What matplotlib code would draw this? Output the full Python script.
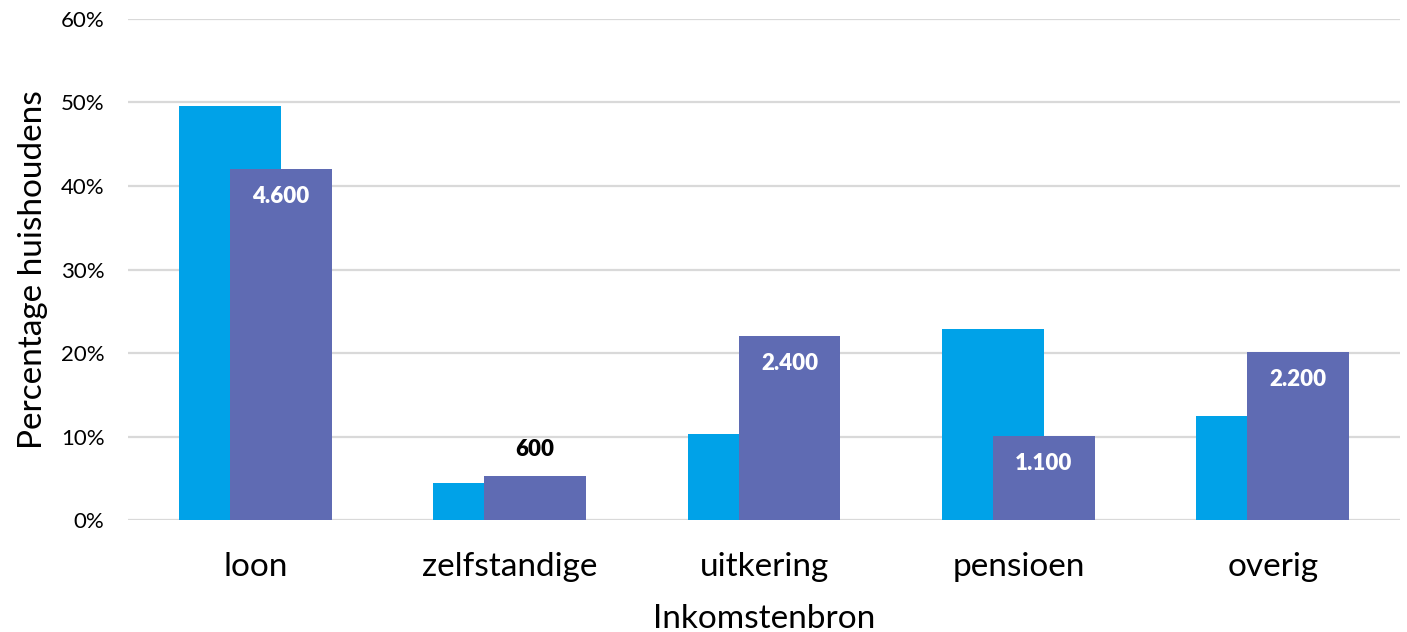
import numpy as np
import matplotlib.pyplot as plt

plt.rcParams['font.family'] = ['Lato', 'DejaVu Sans']

categories = ["loon", "zelfstandige", "uitkering", "pensioen", "overig"]
pct_all = [49.6, 4.4, 10.3, 22.9, 12.5]
pct_group = [42.0, 5.3, 22.0, 10.1, 20.1]
count_labels = ["4.600", "600", "2.400", "1.100", "2.200"]

fig = plt.figure(figsize=(14.07, 6.32), dpi=100)
ax = fig.add_axes([0.091, 0.177, 0.904, 0.793])

x = np.arange(len(categories))
w = 0.4
ax.bar(x - 0.1, pct_all, width=w, color="#00a2e8", zorder=2)
bars = ax.bar(x + 0.1, pct_group, width=w, color="#5f6bb3", zorder=3)

for b, lab in zip(bars, count_labels):
    h = b.get_height()
    cx = b.get_x() + b.get_width() / 2
    if h > 8:
        ax.text(cx, h - 3.3, lab, ha="center", va="center", color="white",
                fontsize=16, fontweight="heavy", zorder=4)
    else:
        ax.text(cx, h + 3.2, lab, ha="center", va="center", color="black",
                fontsize=16, fontweight="heavy", zorder=4)

ax.set_xlim(-0.5, 4.5)
ax.set_ylim(0, 60)
ax.set_yticks(np.arange(0, 61, 10))
ax.set_yticklabels([f"{v}%" for v in range(0, 61, 10)], fontsize=16)
ax.set_xticks(x)
ax.set_xticklabels(categories, fontsize=24)
ax.grid(axis="y", color="#d9d9d9", linewidth=1.6, zorder=0)
for s in ax.spines.values():
    s.set_visible(False)
ax.tick_params(axis="both", length=0)
ax.tick_params(axis="y", pad=17)
ax.tick_params(axis="x", pad=23)
ax.set_ylabel("Percentage huishoudens", fontsize=24, labelpad=9)
ax.set_xlabel("Inkomstenbron", fontsize=24, labelpad=16)

fig.savefig("out.png", dpi=100)
